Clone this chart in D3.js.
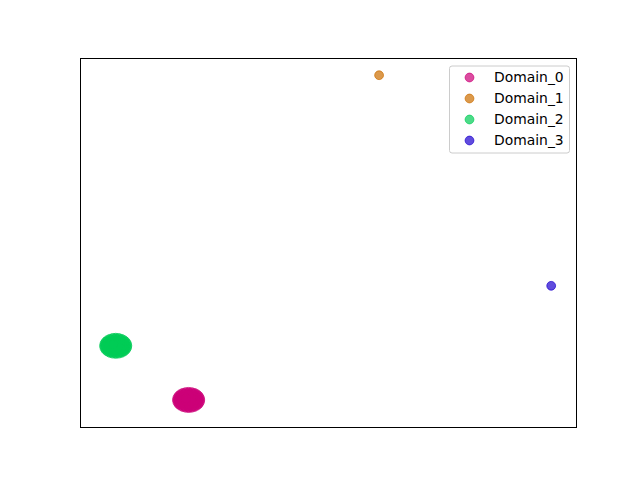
<!DOCTYPE html>
<html><head><meta charset="utf-8">
<script src="https://cdn.jsdelivr.net/npm/d3@7"></script>
<style>body{margin:0;background:#fff}</style>
</head><body>
<script>
const domains = ["Domain_0","Domain_1","Domain_2","Domain_3"];
const colors = ["#CC0077","#CC6E00","#00CC55","#1C00CF"];
const d0x = [-10.75,-11.06,-11.92,-13.1,-14.28,-15.14,-15.45,-15.14,-14.28,-13.1,-11.92,-11.06,
             -10.83,-11.44,-12.49,-13.71,-14.76,-15.37,-15.37,-14.76,-13.71,-12.49,-11.44,-10.83,
             -11.1,-11.37,-12.1,-13.1,-14.1,-14.83,-15.1,-14.83,-14.1,-13.1,-12.1,-11.37,
             -11.7,-12.11,-13.1,-14.09,-14.5,-14.09,-13.1,-12.11,
             -13.1,-12.6,-13.6,-12.6,-13.6];
const d0y = [-24.5,-23.67,-23.07,-22.85,-23.07,-23.67,-24.5,-25.33,-25.93,-26.15,-25.93,-25.33,
             -24.07,-23.33,-22.91,-22.91,-23.33,-24.07,-24.93,-25.67,-26.09,-26.09,-25.67,-24.93,
             -24.5,-23.8,-23.29,-23.1,-23.29,-23.8,-24.5,-25.2,-25.71,-25.9,-25.71,-25.2,
             -24.5,-23.83,-23.55,-23.83,-24.5,-25.17,-25.45,-25.17,
             -24.5,-24.2,-24.8,-24.8,-24.2];
const d1x = [25.3];
const d1y = [41.5];
const d2x = [-25.45,-25.76,-26.62,-27.8,-28.98,-29.84,-30.15,-29.84,-28.98,-27.8,-26.62,-25.76,
             -25.53,-26.14,-27.19,-28.41,-29.46,-30.07,-30.07,-29.46,-28.41,-27.19,-26.14,-25.53,
             -25.8,-26.07,-26.8,-27.8,-28.8,-29.53,-29.8,-29.53,-28.8,-27.8,-26.8,-26.07,
             -26.4,-26.81,-27.8,-28.79,-29.2,-28.79,-27.8,-26.81,
             -27.8,-27.3,-28.3,-27.3,-28.3];
const d2y = [-13.5,-12.67,-12.07,-11.85,-12.07,-12.67,-13.5,-14.33,-14.93,-15.15,-14.93,-14.33,
             -13.07,-12.33,-11.91,-11.91,-12.33,-13.07,-13.93,-14.67,-15.09,-15.09,-14.67,-13.93,
             -13.5,-12.8,-12.29,-12.1,-12.29,-12.8,-13.5,-14.2,-14.71,-14.9,-14.71,-14.2,
             -13.5,-12.83,-12.55,-12.83,-13.5,-14.17,-14.45,-14.17,
             -13.5,-13.2,-13.8,-13.8,-13.2];
const d3x = [60.0];
const d3y = [-1.3];
const xDomain = [-35, 65];
const yDomain = [-30, 45];

const series = [[d0x,d0y],[d1x,d1y],[d2x,d2y],[d3x,d3y]];
const W=640,H=480, L=80,R=576,T=58,B=427;
const svg = d3.select("body").append("svg").attr("width",W).attr("height",H);
const x = d3.scaleLinear().domain(xDomain).range([L,R]);
const y = d3.scaleLinear().domain(yDomain).range([B,T]);
const rad = 4.4;

series.forEach((s,i)=>{
  const pts = s[0].map((v,j)=>[v,s[1][j]]);
  svg.append("g").selectAll("circle").data(pts).join("circle")
    .attr("cx",d=>x(d[0])).attr("cy",d=>y(d[1])).attr("r",rad)
    .attr("fill",colors[i]).attr("fill-opacity",0.7)
    .attr("stroke",colors[i]).attr("stroke-opacity",0.7).attr("stroke-width",1);
});

svg.append("rect").attr("x",L).attr("y",T).attr("width",R-L).attr("height",B-T)
  .attr("fill","none").attr("stroke","#000").attr("stroke-width",1).attr("shape-rendering","crispEdges");

const lg = svg.append("g");
lg.append("rect").attr("x",449.5).attr("y",66).attr("width",120).attr("height",87)
  .attr("rx",2.5).attr("fill","#fff").attr("fill-opacity",0.8).attr("stroke","#cccccc").attr("stroke-width",1);
domains.forEach((d,i)=>{
  const yy = 77.5 + i*21;
  lg.append("circle").attr("cx",469.5).attr("cy",yy).attr("r",rad)
    .attr("fill",colors[i]).attr("fill-opacity",0.7)
    .attr("stroke",colors[i]).attr("stroke-opacity",0.7).attr("stroke-width",1);
  lg.append("text").attr("x",494).attr("y",yy+4.8).text(d)
    .attr("font-family","DejaVu Sans").attr("font-size","13.9px").attr("fill","#000");
});
</script>
</body></html>
